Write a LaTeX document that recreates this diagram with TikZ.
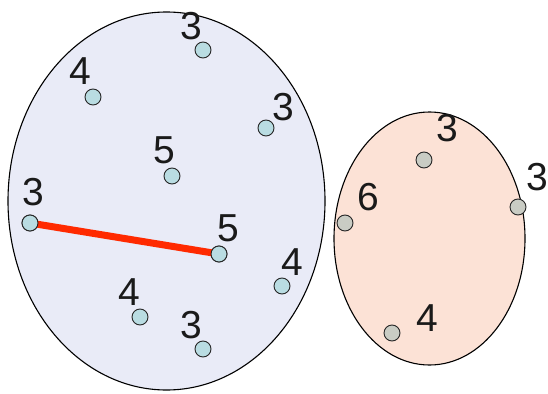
\documentclass[tikz,border=0pt]{standalone}
\usepackage{fontspec}
\setmainfont{Liberation Sans}
\usetikzlibrary{shapes.geometric}
\definecolor{lavfill}{HTML}{E9EBF7}
\definecolor{peachfill}{HTML}{FCE2D6}
\definecolor{dotblue}{HTML}{B9DCE2}
\definecolor{dotgray}{HTML}{C9CCC4}
\definecolor{redline}{HTML}{FF2A00}
\definecolor{txt}{HTML}{1A1A1A}
\begin{document}
\begin{tikzpicture}[x=1pt,y=-1pt,
  blob/.style={ellipse,draw=black,line width=1.1pt,inner sep=0pt},
  dotb/.style={circle,draw=black!85,line width=0.9pt,fill=dotblue,minimum size=16pt,inner sep=0pt},
  dotg/.style={circle,draw=black!85,line width=0.9pt,fill=dotgray,minimum size=16pt,inner sep=0pt},
  lbl/.style={text=txt,font=\fontsize{39}{42}\selectfont,inner sep=0pt}]
\useasboundingbox (0,0) rectangle (548,393);
\node[blob,fill=lavfill,minimum width=317pt,minimum height=378pt] (L) at (166.5,201) {};
\node[blob,fill=peachfill,minimum width=191pt,minimum height=253pt] (R) at (429.5,238.5) {};
% left dots
\node[dotb] (a1) at (203,50) {};
\node[dotb] (a2) at (93,97) {};
\node[dotb] (a3) at (266,128) {};
\node[dotb] (a4) at (172,176) {};
\node[dotb] (a5) at (30,223) {};
\node[dotb] (a6) at (219,254) {};
\node[dotb] (a7) at (282,286) {};
\node[dotb] (a8) at (140,317) {};
\node[dotb] (a9) at (203,349) {};
\draw[redline,line width=7pt] (a5.center) -- (a6.center);
\node[dotb] at (a5) {};
\node[dotb] at (a6) {};
% left labels
\node[lbl] (t1) at (191,26) {3};
\node[lbl] (t2) at (80,71) {4};
\node[lbl] (t3) at (283,107) {3};
\node[lbl] (t4) at (164,150) {5};
\node[lbl] (t5) at (33,192) {3};
\node[lbl] (t6) at (228,228) {5};
\node[lbl] (t7) at (292,262) {4};
\node[lbl] (t8) at (129,292) {4};
\node[lbl] (t9) at (191,325) {3};
% right dots
\node[dotg] (b1) at (424,160) {};
\node[dotg] (b2) at (345,223) {};
\node[dotg] (b3) at (518,207) {};
\node[dotg] (b4) at (392,333) {};
% right labels
\node[lbl] (u1) at (447,128) {3};
\node[lbl] (u2) at (368,197) {6};
\node[lbl] (u3) at (537,177) {3};
\node[lbl] (u4) at (427,318) {4};
\end{tikzpicture}
\end{document}
